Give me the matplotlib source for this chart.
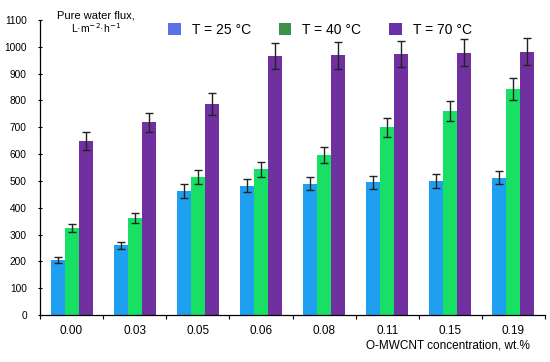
import matplotlib
matplotlib.use("Agg")
import matplotlib.pyplot as plt
import numpy as np
from matplotlib.patches import Patch

plt.rcParams['font.family'] = ['Liberation Sans', 'DejaVu Sans']

categories = ["0.00", "0.03", "0.05", "0.06", "0.08", "0.11", "0.15", "0.19"]
flux_25 = [205, 260, 462, 482, 490, 495, 500, 512]
flux_40 = [325, 362, 515, 543, 598, 700, 760, 843]
flux_70 = [648, 718, 787, 965, 968, 973, 978, 982]
err_25 = [10, 14, 25, 25, 25, 25, 25, 25]
err_40 = [16, 18, 25, 28, 30, 35, 38, 42]
err_70 = [33, 37, 40, 48, 50, 50, 50, 50]
series_labels = ["T = 25 °C", "T = 40 °C", "T = 70 °C"]

bar_colors = ["#1f9ff0", "#17e065", "#7030a0"]
legend_colors = ["#5a72e6", "#3f8f4c", "#6a30a8"]

fig = plt.figure(figsize=(5.5, 3.62), dpi=100)
ax = fig.add_axes([40/550, 1-315/362, 505/550, 295/362])

x = np.arange(len(categories))
w = 0.222
for i, (vals, errs) in enumerate([(flux_25, err_25), (flux_40, err_40), (flux_70, err_70)]):
    ax.bar(x + (i-1)*w, vals, width=w, color=bar_colors[i], zorder=2)
    ax.errorbar(x + (i-1)*w, vals, yerr=errs, fmt='none', ecolor='#222222',
                elinewidth=1, capsize=3, capthick=1, zorder=3)

ax.set_xlim(-0.5, len(categories)-0.5)
ax.set_ylim(0, 1100)
ax.set_yticks(np.arange(0, 1101, 100))
ax.tick_params(axis='y', labelsize=7.3, length=3, direction='inout', width=0.8, pad=8)
ax.set_xticks(x)
ax.set_xticklabels(categories, fontsize=8.5)
ax.tick_params(axis='x', which='major', length=0, pad=7)
ax.set_xticks(np.arange(-0.5, len(categories), 1), minor=True)
ax.tick_params(axis='x', which='minor', length=3, direction='out', width=0.8)
for s in ['top', 'right']:
    ax.spines[s].set_visible(False)
for s in ['left', 'bottom']:
    ax.spines[s].set_linewidth(0.9)

fig.text(96/550, 1-15/362, "Pure water flux,", ha='center', va='center', fontsize=8)
fig.text(96/550, 1-28/362, "L·m$^{-2}$·h$^{-1}$", ha='center', va='center', fontsize=7.5)

handles = [Patch(facecolor=c, edgecolor='none') for c in legend_colors]
fig.legend(handles, series_labels, loc='center', bbox_to_anchor=(320/550, 1-30/362),
           ncol=3, frameon=False, fontsize=10, handlelength=0.9, handleheight=0.9,
           columnspacing=2.0, handletextpad=0.8)

fig.text(530/550, 1-345/362, "O-MWCNT concentration, wt.%", ha='right', va='center', fontsize=8.5)

fig.savefig("out.png", dpi=100)
